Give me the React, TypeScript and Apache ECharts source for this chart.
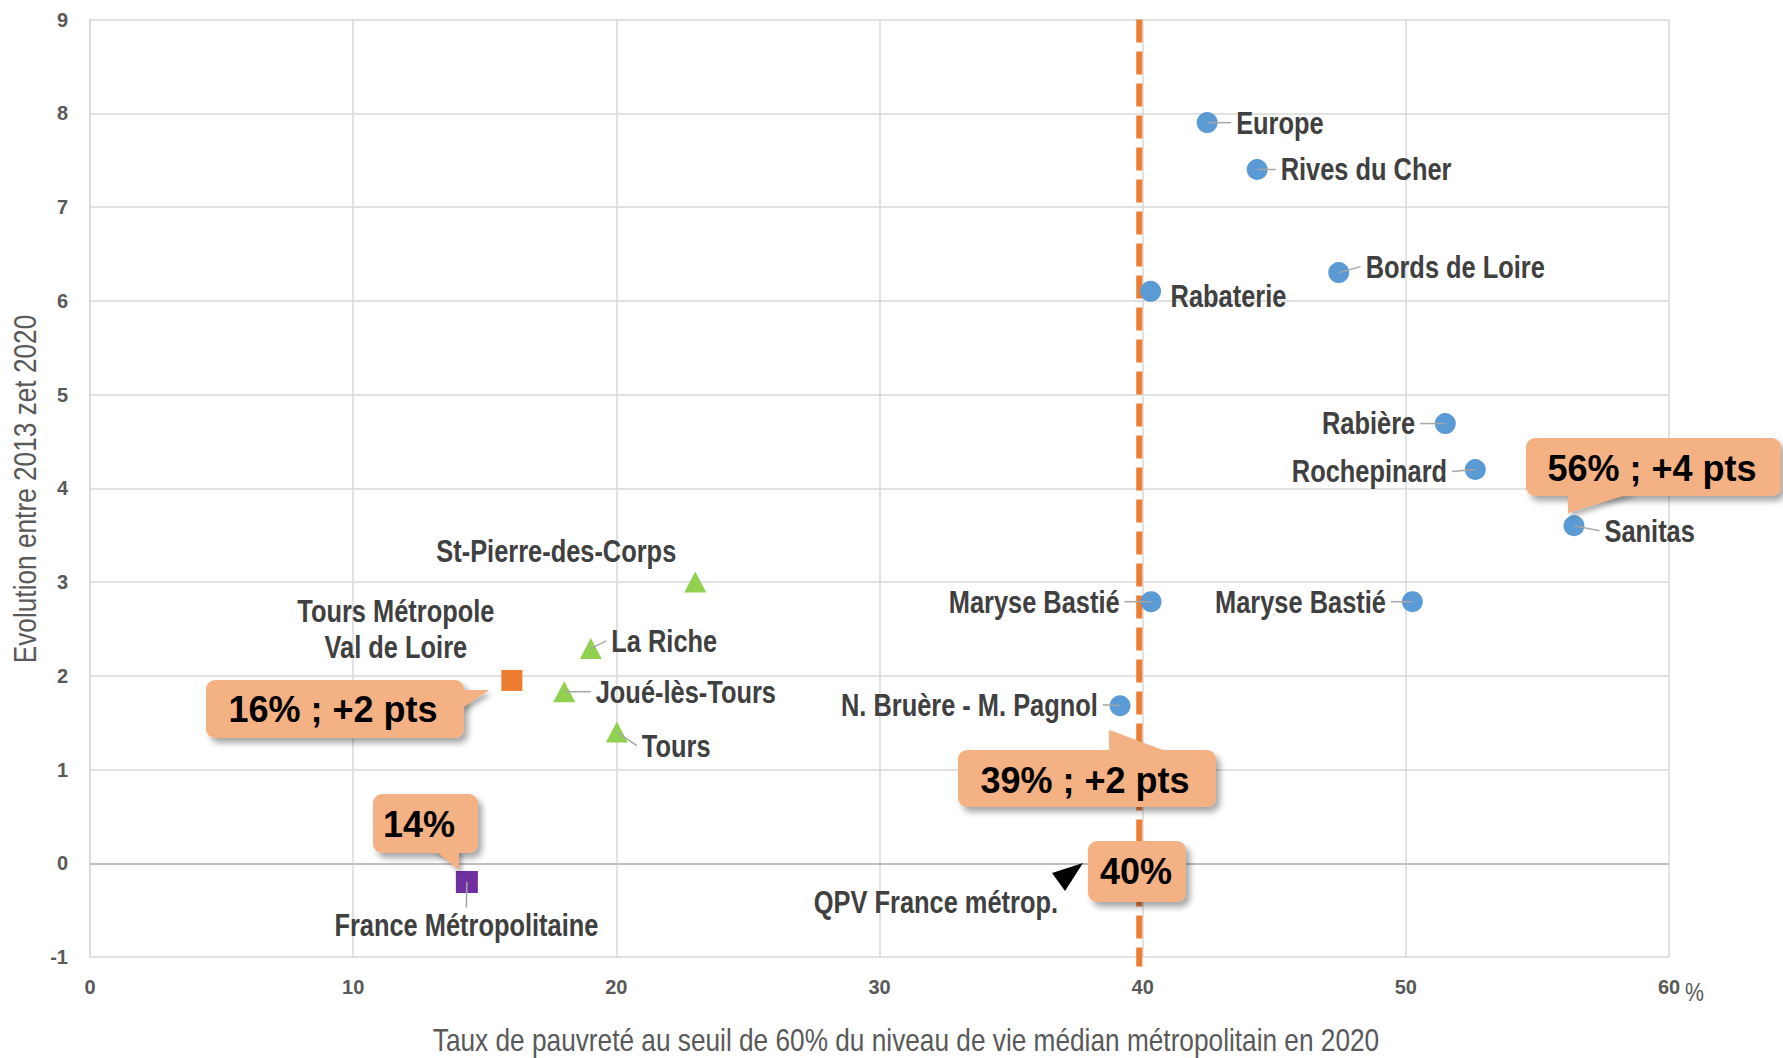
import React, { useEffect, useRef } from 'react';
import * as echarts from 'echarts';

// ---------- data ----------
const blueNames = ['Europe', 'Rives du Cher', 'Bords de Loire', 'Rabaterie', 'Rabière', 'Rochepinard', 'Sanitas', 'Maryse Bastié', 'Maryse Bastié', 'N. Bruère - M. Pagnol'];
const blueX = [42.45, 44.35, 47.45, 40.3, 51.5, 52.64, 56.39, 40.32, 50.25, 39.14];
const blueY = [7.9, 7.4, 6.3, 6.1, 4.69, 4.2, 3.6, 2.79, 2.79, 1.68];

const greenNames = ['St-Pierre-des-Corps', 'La Riche', 'Joué-lès-Tours', 'Tours'];
const greenX = [23.0, 19.03, 18.02, 20.02];
const greenY = [3.0, 2.29, 1.83, 1.4];

const metroNames = ['Tours Métropole\nVal de Loire'];
const metroX = [16.03];
const metroY = [1.95];

const franceNames = ['France Métropolitaine'];
const franceX = [14.32];
const franceY = [-0.2];

const qpvLineX = [39.87, 39.87];
const qpvLineY = [9, -1.1];

const xMin = 0, xMax = 60, xStep = 10;
const yMin = -1, yMax = 9, yStep = 1;

const xAxisTitle = 'Taux de pauvreté au seuil de 60% du niveau de vie médian métropolitain en 2020';
const yAxisTitle = 'Evolution entre 2013 zet 2020';
const qpvLabel = 'QPV France métrop.';
const unitLabel = '%';
const calloutTexts = ['16% ; +2 pts', '14%', '39% ; +2 pts', '40%', '56% ; +4 pts'];

// ---------- label placement (style only) ----------
const blueSide = ['right', 'right', 'right', 'right', 'left', 'left', 'right', 'left', 'left', 'left'];
const blueDx = [18.5, 13, 16.4, 9.5, -19.6, -17.7, 20, -21, -16, -11.7];
const blueDy = [0, 0, -6, 5, 0, 2, 5, 0, 0, -1];
const blueLine = [true, true, true, false, true, true, true, true, true, true];

const greenSide = ['center', 'right', 'right', 'right'];
const greenDx = [-139, 10, 21, 14.5];
const greenDy = [-31, -7.7, 0, 13.6];
const greenLine = [false, true, true, true];

const metroSide = ['center'];
const metroDx = [-116];
const metroDy = [-51];
const metroLine = [false];

const franceSide = ['center'];
const franceDx = [-0.5];
const franceDy = [42.6];
const franceLine = [true];

// callout geometry (annotation boxes, px)
const calloutBoxes = [
  { x: 206, y: 680, w: 258, h: 58, pts: [[455, 690], [489, 690], [462, 708]], tx: 333, ty: 709 },
  { x: 373, y: 794, w: 105, h: 59, pts: [[432, 848], [459, 848], [459, 870]], tx: 419, ty: 824 },
  { x: 958, y: 750, w: 258, h: 57, pts: [[1109, 730], [1109, 754], [1173, 754]], tx: 1085, ty: 780 },
  { x: 1088, y: 841, w: 98, h: 61, pts: null, tx: 1136, ty: 871 },
  { x: 1526, y: 438, w: 255, h: 58, pts: [[1568, 492], [1568, 513], [1635, 492]], tx: 1652, ty: 468 },
];

const SANS = "'Liberation Sans', Arial, sans-serif";
const NARROW_SCALE = 0.82;
const LABEL_COLOR = '#404040';
const AXIS_COLOR = '#595959';
const GRID_COLOR = '#d9d9d9';
const LEADER_COLOR = '#a6a6a6';

function markSeries(name: string, xs: number[], ys: number[], names: string[], symbol: string, size: any, color: string) {
  return {
    type: 'scatter',
    name,
    symbol,
    symbolSize: size,
    z: 5,
    itemStyle: { color, opacity: 1 },
    emphasis: { disabled: true },
    data: xs.map((x, i) => ({ value: [x, ys[i]], name: names[i] })),
  };
}

function labelSeries(xs: number[], ys: number[], names: string[], side: string[], dx: number[], dy: number[], line: boolean[], r: number) {
  return {
    type: 'custom',
    coordinateSystem: 'cartesian2d',
    silent: true,
    z: 6,
    clip: false,
    encode: { x: 0, y: 1 },
    data: xs.map((x, i) => [x, ys[i], i]),
    renderItem: (_params: any, api: any) => {
      const i = api.value(2);
      const p = api.coord([api.value(0), api.value(1)]);
      const px = p[0], py = p[1];
      const s = side[i];
      let tx = px + dx[i];
      const ty = py + dy[i];
      let align = 'center';
      let lineEnd: number[] = [tx, ty];
      if (s === 'right') {
        tx = px + r + dx[i];
        align = 'left';
        lineEnd = [tx - 5, ty];
      } else if (s === 'left') {
        tx = px - r + dx[i];
        align = 'right';
        lineEnd = [tx + 5, ty];
      } else {
        lineEnd = [tx, ty - 17];
      }
      const children: any[] = [];
      if (line[i]) {
        children.push({
          type: 'polyline',
          shape: { points: [[px, py], lineEnd] },
          style: { stroke: LEADER_COLOR, lineWidth: 1.5, fill: null },
        });
      }
      children.push({
        type: 'text',
        x: tx,
        y: ty,
        scaleX: NARROW_SCALE,
        style: {
          text: names[i],
          fill: LABEL_COLOR,
          font: `bold 31px ${SANS}`,
          align,
          verticalAlign: 'middle',
          lineHeight: 36,
        },
      });
      return { type: 'group', children };
    },
  };
}

export default function App() {
  const ref = useRef<HTMLDivElement>(null);

  useEffect(() => {
    document.body.style.margin = '0';
    if (!ref.current) return;
    const chart = echarts.init(ref.current, undefined, { renderer: 'svg' });

    const graphic: any[] = [];
    calloutBoxes.forEach((b, i) => {
      if (b.pts) {
        graphic.push({
          type: 'polygon', z: 99,
          shape: { points: b.pts },
          style: { fill: '#F4B183', shadowBlur: 5, shadowOffsetX: 3, shadowOffsetY: 4, shadowColor: 'rgba(0,0,0,0.3)' },
        });
      }
      graphic.push({
        type: 'rect', z: 100,
        shape: { x: b.x, y: b.y, width: b.w, height: b.h, r: 9 },
        style: { fill: '#F4B183', shadowBlur: 6, shadowOffsetX: 4, shadowOffsetY: 5, shadowColor: 'rgba(0,0,0,0.35)' },
      });
      if (b.pts) {
        graphic.push({
          type: 'polygon', z: 101,
          shape: { points: b.pts },
          style: { fill: '#F4B183' },
        });
      }
      graphic.push({
        type: 'text', z: 102,
        x: b.tx, y: b.ty,
        style: {
          text: calloutTexts[i],
          fill: '#000000',
          font: `bold 36px ${SANS}`,
          textAlign: 'center',
          textVerticalAlign: 'middle',
        },
      });
    });
    // black arrow + QPV label
    graphic.push({
      type: 'polygon', z: 102,
      shape: { points: [[1083, 863], [1052, 873], [1065, 891]] },
      style: { fill: '#000000' },
    });
    graphic.push({
      type: 'text', z: 102,
      x: 1058, y: 902, scaleX: NARROW_SCALE,
      style: {
        text: qpvLabel,
        fill: LABEL_COLOR,
        font: `bold 31px ${SANS}`,
        textAlign: 'right',
        textVerticalAlign: 'middle',
      },
    });
    // unit after the last x tick
    graphic.push({
      type: 'text', z: 102,
      x: 1685, y: 992, scaleX: NARROW_SCALE,
      style: {
        text: unitLabel,
        fill: AXIS_COLOR,
        font: `26px ${SANS}`,
        textAlign: 'left',
        textVerticalAlign: 'middle',
      },
    });
    // axis titles (condensed)
    graphic.push({
      type: 'text', z: 102,
      x: 906, y: 1040, scaleX: NARROW_SCALE,
      style: {
        text: xAxisTitle,
        fill: AXIS_COLOR,
        font: `32px ${SANS}`,
        textAlign: 'center',
        textVerticalAlign: 'middle',
      },
    });
    graphic.push({
      type: 'text', z: 102,
      x: 25, y: 489, scaleX: NARROW_SCALE, rotation: Math.PI / 2,
      style: {
        text: yAxisTitle,
        fill: AXIS_COLOR,
        font: `32px ${SANS}`,
        textAlign: 'center',
        textVerticalAlign: 'middle',
      },
    });

    const option: any = {
      animation: false,
      backgroundColor: '#ffffff',
      grid: { left: 90, right: 114, top: 19.5, bottom: 101 },
      xAxis: {
        type: 'value',
        min: xMin, max: xMax, interval: xStep,
        axisLine: { show: true, lineStyle: { color: GRID_COLOR, width: 1.5 } },
        axisTick: { show: false },
        axisLabel: { fontFamily: SANS, fontWeight: 'bold', fontSize: 20, color: AXIS_COLOR, margin: 20 },
        splitLine: { show: true, lineStyle: { color: GRID_COLOR, width: 1.5 } },
      },
      yAxis: {
        type: 'value',
        min: yMin, max: yMax, interval: yStep,
        axisLine: { show: true, lineStyle: { color: GRID_COLOR, width: 1.5 } },
        axisTick: { show: false },
        axisLabel: { fontFamily: SANS, fontWeight: 'bold', fontSize: 20, color: AXIS_COLOR, margin: 22 },
        splitLine: { show: true, lineStyle: { color: GRID_COLOR, width: 1.5 } },
      },
      graphic,
      series: [
        {
          type: 'line',
          name: 'QPV France métrop.',
          data: qpvLineX.map((x, i) => [x, qpvLineY[i]]),
          showSymbol: false,
          symbol: 'none',
          clip: false,
          z: 3,
          lineStyle: { color: '#ED7D31', width: 6, type: [23, 9] },
          emphasis: { disabled: true },
          markLine: {
            silent: true,
            symbol: 'none',
            label: { show: false },
            lineStyle: { color: '#bfbfbf', width: 2, type: 'solid' },
            data: [{ yAxis: 0 }],
          },
        },
        markSeries('QPV', blueX, blueY, blueNames, 'circle', 21, '#5B9BD5'),
        markSeries('Communes', greenX, greenY, greenNames, 'triangle', [22, 21], '#92D050'),
        markSeries('Métropole', metroX, metroY, metroNames, 'rect', 21, '#ED7D31'),
        markSeries('France', franceX, franceY, franceNames, 'rect', 22, '#7030A0'),
        labelSeries(blueX, blueY, blueNames, blueSide, blueDx, blueDy, blueLine, 10.5),
        labelSeries(greenX, greenY, greenNames, greenSide, greenDx, greenDy, greenLine, 10.5),
        labelSeries(metroX, metroY, metroNames, metroSide, metroDx, metroDy, metroLine, 10.5),
        labelSeries(franceX, franceY, franceNames, franceSide, franceDx, franceDy, franceLine, 11),
      ],
    };
    chart.setOption(option);
    return () => chart.dispose();
  }, []);

  return <div ref={ref} style={{ width: 1783, height: 1058 }} />;
}
